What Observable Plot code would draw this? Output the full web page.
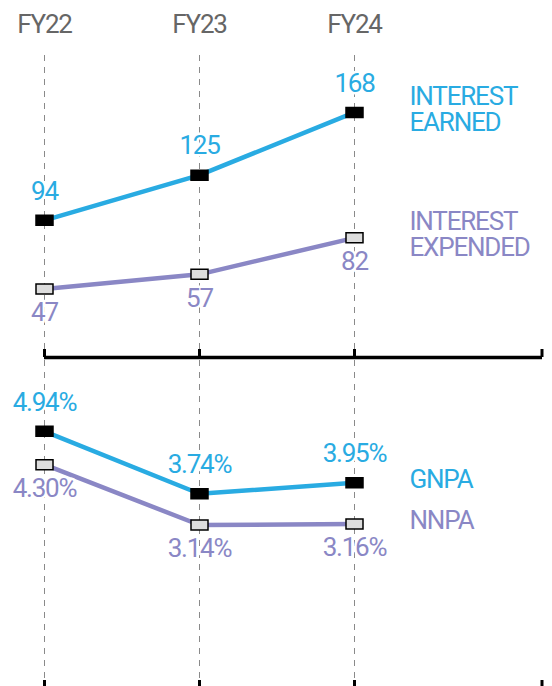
<!DOCTYPE html>
<html><head><meta charset="utf-8">
<script src="https://cdn.jsdelivr.net/npm/d3@7"></script>
<script src="https://cdn.jsdelivr.net/npm/@observablehq/plot@0.6"></script>
<style>
html,body{margin:0;padding:0;background:#fff;overflow:hidden}
svg{display:block}
#chart text{font-family:Roboto,sans-serif;letter-spacing:-1.2px}
</style></head><body><div id="chart"></div>
<script>
const years = ["FY22","FY23","FY24"];
const interestEarned = [94,125,168];
const interestExpended = [47,57,82];
const gnpa = [4.94,3.74,3.95];
const nnpa = [4.30,3.14,3.16];
const topNames = ["INTEREST\nEARNED","INTEREST\nEXPENDED"];
const bottomNames = ["GNPA","NNPA"];

const BLUE = "#29abe2", PURPLE = "#8a87c5";

function rows(names, seriesList, fmt) {
  const out = [];
  names.forEach((name, s) => seriesList[s].forEach((v, i) => out.push({year: years[i], value: v, series: name, s, label: fmt(v), last: i === years.length - 1})));
  return out;
}

const rectSymbol = {draw(ctx) { ctx.moveTo(-8.5,-5); ctx.lineTo(8.5,-5); ctx.lineTo(8.5,5); ctx.lineTo(-8.5,5); ctx.closePath(); }};

function endTick(index, scales, values, dims) {
  const x = dims.width - dims.marginRight;
  const y = dims.height - dims.marginBottom;
  return d3.create("svg:line").attr("x1", x).attr("x2", x).attr("y1", y).attr("y2", y - 8)
    .attr("stroke", "#000").attr("stroke-width", 3).node();
}

function panel(data, names, yDomain, opts) {
  const colors = {domain: names, range: [BLUE, PURPLE]};
  const a = data.filter(d => d.s === 0), b = data.filter(d => d.s === 1);
  const marks = [
    Plot.ruleX(years, {stroke: "#8a8a8a", strokeWidth: 1, strokeDasharray: "6,6"}),
    Plot.ruleY([0], {stroke: "#000", strokeWidth: 3.5}),
    Plot.axisX({anchor: "bottom", tickSize: -8, strokeWidth: 3, stroke: "#000", tickFormat: () => "", label: null}),
    endTick,
    Plot.line(data, {x: "year", y: "value", z: "series", stroke: "series", strokeWidth: 4.5}),
    Plot.dot(a, {x: "year", y: "value", symbol: rectSymbol, fill: "#000", stroke: "#000", strokeWidth: 1.5}),
    Plot.dot(b, {x: "year", y: "value", symbol: rectSymbol, fill: "#ddd", stroke: "#000", strokeWidth: 1.5}),
    Plot.text(a, {x: "year", y: "value", text: "label", fill: BLUE, stroke: "white", strokeWidth: 5, dy: -29, fontSize: 26}),
    Plot.text(b, {x: "year", y: "value", text: "label", fill: PURPLE, stroke: "white", strokeWidth: 5, dy: 24, fontSize: 26}),
    Plot.text(data.filter(d => d.last), {x: "year", y: "value", text: "series", fill: "series", dx: 55, dy: -3, textAnchor: "start", lineHeight: 1.0, fontSize: 26})
  ];
  if (opts.topAxis) marks.push(Plot.axisX({anchor: "top", tickSize: 0, tickPadding: 23, fontSize: 26, color: "#666", label: null}));
  return Plot.plot({
    width: 552,
    height: opts.height,
    marginTop: opts.marginTop,
    marginBottom: opts.marginBottom,
    marginLeft: 44,
    marginRight: 10,
    style: {fontFamily: "Roboto, sans-serif", fontSize: "26px", overflow: "visible", background: "transparent"},
    x: {type: "point", domain: years, range: [44, 354], padding: 0, axis: null, label: null},
    y: {domain: yDomain, axis: null},
    color: colors,
    marks
  });
}

const topData = rows(topNames, [interestEarned, interestExpended], v => String(v));
const bottomData = rows(bottomNames, [gnpa, nnpa], v => v.toFixed(2) + "%");

const chart = document.getElementById("chart");
chart.appendChild(panel(topData, topNames, [0, 207], {height: 360, marginTop: 55, marginBottom: 3, topAxis: true}));
chart.appendChild(panel(bottomData, bottomNames, [0, 6.3], {height: 330, marginTop: 0, marginBottom: 2, topAxis: false}));
</script></body></html>
